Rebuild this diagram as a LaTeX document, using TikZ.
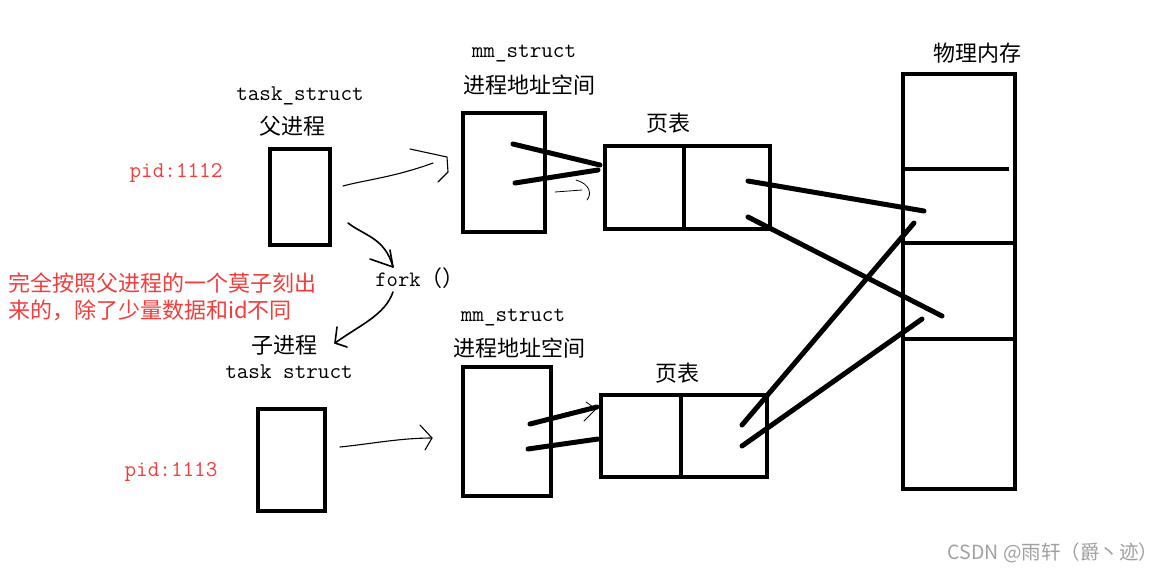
\documentclass[tikz,border=0pt]{standalone}
\usepackage{fontspec}
\newfontfamily\cjk{Noto Sans CJK SC}
\usetikzlibrary{calc}
\definecolor{redtxt}{HTML}{F43C3C}
\definecolor{wmgray}{HTML}{A0A0A0}
\begin{document}
\begin{tikzpicture}[x=1pt,y=-1pt,
  box/.style={draw=black,line width=4.5pt,rectangle,inner sep=0pt,fill=none},
  bar/.style={line width=5pt,line cap=round},
  hand/.style={line width=1.1pt,line cap=round,line join=round},
  cn/.style={font=\cjk\fontsize{22}{26}\selectfont,inner sep=0pt},
  lat/.style={font=\ttfamily\fontsize{22.5}{26}\selectfont,inner sep=0pt},
  red/.style={text=redtxt}]
\useasboundingbox[fill=white] (0,0) rectangle (1168,574);

% boxes
\node[box,minimum width=60pt,minimum height=96pt] (ptask) at (300,197) {};
\node[box,minimum width=82pt,minimum height=119pt] (pmm) at (504,172.5) {};
\node[box,minimum width=165pt,minimum height=83pt] (ppt) at (687.5,187.5) {};
\node[box,minimum width=112pt,minimum height=415pt] (mem) at (959,281.5) {};
\node[box,minimum width=67pt,minimum height=102pt] (ctask) at (291.5,460) {};
\node[box,minimum width=88pt,minimum height=129pt] (cmm) at (507,431.5) {};
\node[box,minimum width=166pt,minimum height=82pt] (cpt) at (684,436) {};

% page table dividers
\draw[line width=4.5pt] (684,146) -- (684,229);
\draw[line width=4.5pt] (681,395) -- (681,477);
% memory frame lines
\draw[line width=4.5pt] (mem.west |- 0,169) -- (1009,169);
\draw[line width=4.5pt] (mem.west |- 0,243) -- (mem.east |- 0,243);
\draw[line width=4.5pt] (mem.west |- 0,339) -- (mem.east |- 0,339);

% labels
\node[lat] (lpt) at (300,96) {task\_struct};
\node[cn] (lpf) at (292,126) {父进程};
\node[lat,red] (lpid1) at (176,173) {pid:1112};
\node[lat] (lpmm) at (524,54) {mm\_struct};
\node[cn] (lpas) at (529,85) {进程地址空间};
\node[cn] (lppt) at (668,123) {页表};
\node[cn] (lmem) at (977,53) {物理内存};
\node[font=\cjk\fontsize{22}{26}\selectfont,inner sep=0pt] (lfork) at (420,278) {\ttfamily fork\cjk （）};
\node[cn,red,anchor=west] (lr1) at (8,283) {完全按照父进程的一个莫子刻出};
\node[cn,red,anchor=west] (lr2) at (8,310) {来的，除了少量数据和id不同};
\node[cn] (lcf) at (284,345) {子进程};
\node[lat] (lct) at (289,372) {task struct};
\node[lat,red] (lpid2) at (171,472) {pid:1113};
\node[lat] (lcmm) at (513,318) {mm\_struct};
\node[cn] (lcas) at (519,348) {进程地址空间};
\node[cn] (lcpt) at (677,373) {页表};
\node[font=\cjk\fontsize{19.5}{22}\selectfont,text=wmgray,inner sep=0pt] (wm) at (1053,553) {CSDN @雨轩（爵丶迹）};

% coordinates for line ends
\coordinate (a1) at (513,144);
\coordinate (a2) at (600,165);
\coordinate (b1) at (515,183);
\coordinate (b2) at (598,170);
\coordinate (c1) at (748,181);
\coordinate (c2) at (924,211);
\coordinate (d1) at (748,217);
\coordinate (d2) at (942,316);
\coordinate (e1) at (742,425);
\coordinate (e2) at (914,223);
\coordinate (f1) at (742,446);
\coordinate (f2) at (922,319);
\coordinate (g1) at (530,424);
\coordinate (g2) at (597,407);
\coordinate (h1) at (528,449);
\coordinate (h2) at (598,439);

\draw[bar] (a1) -- (a2);
\draw[bar] (b1) -- (b2);
\draw[bar] (c1) -- (c2);
\draw[bar] (d1) -- (d2);
\draw[bar] (e1) -- (e2);
\draw[bar] (f1) -- (f2);
\draw[bar] (g1) -- (g2);
\draw[bar] (h1) -- (h2);

% hand-drawn thin arrows
\coordinate (t1s) at (343,186);
\coordinate (t1e) at (433,163);
\draw[hand] (t1s) .. controls (365,180) and (395,177) .. (t1e);
\draw[hand] (410,149) -- (447,157) -- (448,172) -- (438,182);

\coordinate (t2s) at (340,447);
\coordinate (t2e) at (432,438);
\draw[hand] (t2s) .. controls (370,444) and (400,438) .. (t2e);
\draw[hand] (420,425) -- (432,438) -- (425,450);

\coordinate (f1s) at (348,223);
\coordinate (f1e) at (393,267);
\draw[hand,line width=1.6pt] (f1s) .. controls (365,236) and (385,238) .. (f1e);
\draw[hand,line width=1.6pt] (370,259) -- (f1e) -- (390,250);

\coordinate (f2s) at (393,292);
\coordinate (f2e) at (335,343);
\draw[hand,line width=1.6pt] (f2s) .. controls (385,315) and (360,325) .. (f2e);
\draw[hand,line width=1.6pt] (337,327) -- (f2e) -- (347,347);

\coordinate (k1s) at (555,192);
\coordinate (k1e) at (582,190);
\draw[hand,line width=0.8pt] (k1s) -- (k1e);
\draw[hand,line width=0.8pt] (576,180) .. controls (590,184) and (592,194) .. (587,200);

\draw[hand,line width=0.8pt] (586,402) -- (596,409) -- (584,421);
\end{tikzpicture}
\end{document}
